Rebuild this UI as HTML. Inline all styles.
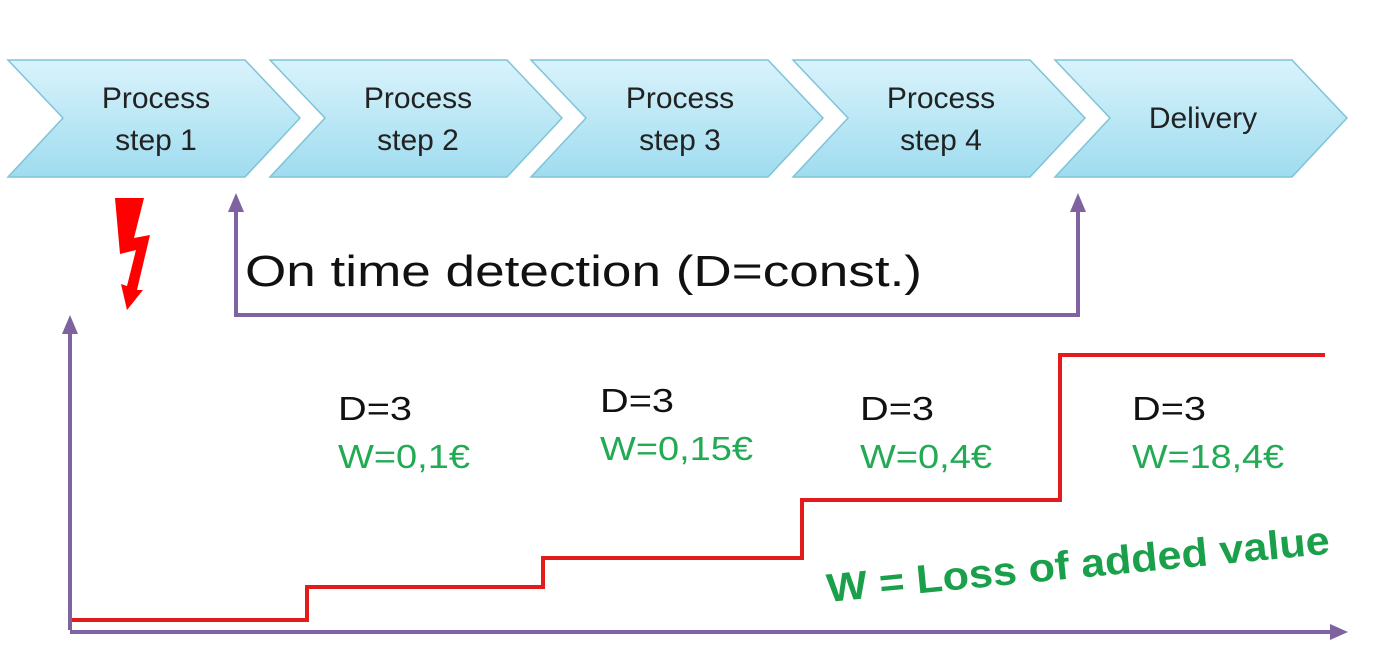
<!DOCTYPE html>
<html><head><meta charset="utf-8"><style>
body{margin:0;width:1400px;height:665px;background:#fff;overflow:hidden}
svg text{font-family:"Liberation Sans",sans-serif}
</style></head><body>
<svg width="1400" height="665" viewBox="0 0 1400 665" xmlns="http://www.w3.org/2000/svg">
<defs>
<linearGradient id="g" x1="0" y1="0" x2="0" y2="1">
<stop offset="0" stop-color="#d9f3fc"/><stop offset="1" stop-color="#9fdcef"/>
</linearGradient>
</defs>
<g stroke="#7fc3d6" stroke-width="1.5" fill="url(#g)">
<polygon points="8,60 245,60 300,118 245,177 8,177 63,118"/>
<polygon points="270,60 507,60 562,118 507,177 270,177 325,118"/>
<polygon points="531,60 768,60 823,118 768,177 531,177 586,118"/>
<polygon points="793,60 1030,60 1085,118 1030,177 793,177 848,118"/>
<polygon points="1055,60 1292,60 1347,118 1292,177 1055,177 1110,118"/>
</g>
<g font-size="30" fill="#222" text-anchor="middle">
<text x="156" y="108">Process</text><text x="156" y="150">step 1</text>
<text x="418" y="108">Process</text><text x="418" y="150">step  2</text>
<text x="680" y="108">Process</text><text x="680" y="150">step  3</text>
<text x="941" y="108">Process</text><text x="941" y="150">step  4</text>
<text x="1203" y="128">Delivery</text>
</g>
<polygon points="115,198 144,198 134,238 150,235 137,290 143,290 127,310 121,284 127,286 136,250 120,254" fill="#f00"/>
<g stroke="#7f63a1" stroke-width="4" fill="none">
<polyline points="236,210 236,315 1078,315 1078,210"/>
<line x1="70" y1="630" x2="70" y2="332"/>
<line x1="70" y1="632" x2="1332" y2="632"/>
</g>
<g fill="#7f63a1">
<polygon points="228,212 244,212 236,193"/>
<polygon points="1070,212 1086,212 1078,193"/>
<polygon points="62,334 78,334 70,315"/>
<polygon points="1330,624 1330,640 1348,632"/>
</g>
<polyline points="72,620 307,620 307,587 543,587 543,558 802,558 802,500 1060,500 1060,355 1325,355" stroke="#e31b1b" stroke-width="4" fill="none"/>
<text x="245" y="286" font-size="44" fill="#111" textLength="677" lengthAdjust="spacingAndGlyphs">On time detection (D=const.)</text>
<g font-size="33" fill="#111">
<text x="338" y="420" textLength="74" lengthAdjust="spacingAndGlyphs">D=3</text><text x="600" y="412" textLength="74" lengthAdjust="spacingAndGlyphs">D=3</text><text x="860" y="420" textLength="74" lengthAdjust="spacingAndGlyphs">D=3</text><text x="1132" y="420" textLength="74" lengthAdjust="spacingAndGlyphs">D=3</text>
</g>
<g font-size="33" fill="#22aa55">
<text x="338" y="468" textLength="132" lengthAdjust="spacingAndGlyphs">W=0,1€</text><text x="600" y="460" textLength="153" lengthAdjust="spacingAndGlyphs">W=0,15€</text><text x="860" y="468" textLength="132" lengthAdjust="spacingAndGlyphs">W=0,4€</text><text x="1132" y="468" textLength="152" lengthAdjust="spacingAndGlyphs">W=18,4€</text>
</g>
<text x="828" y="602" font-size="40" font-weight="bold" fill="#1aa04a" transform="rotate(-5.5 828 602)" textLength="505" lengthAdjust="spacingAndGlyphs">W = Loss of added value</text>
</svg>
</body></html>
